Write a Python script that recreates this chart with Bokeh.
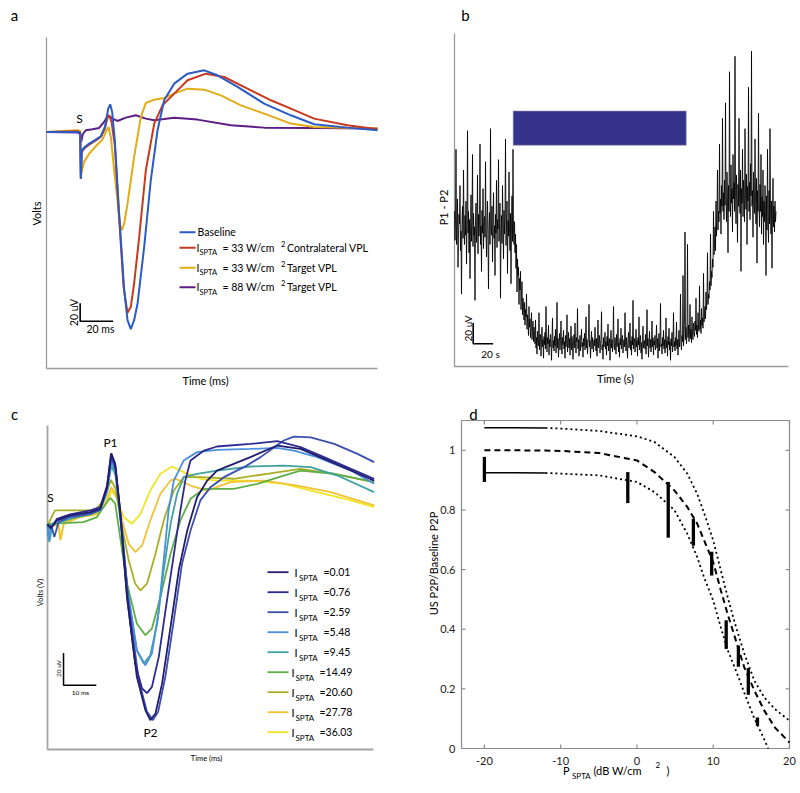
import math
from bokeh.plotting import figure
from bokeh.models import Label, Range1d
from bokeh.embed import file_html
from bokeh.resources import INLINE

FONT = "Lato"

# ---------------- Panel a : evoked potentials (ms, uV) ----------------
a_base_t = [0, 18.8, 20.4, 20.8, 21.4, 22.8, 25.9, 29.9, 32.9, 35.4, 37.4, 38.6, 39.8, 41.4, 44, 47.1, 49.1,
            51.1, 53.1, 55.2, 59.2, 63.2, 67.3, 71.3, 77.4, 85.5, 95.6, 103.6, 115.8, 131.9, 148.1, 162.2, 182.4, 200.6]
a_base_v = [0, 0, -1.1, -51.9, -21.1, -17.4, -13, -8.5, -4.8, 5.6, 25.9, 30.7, 22.2, -9.3, -90.7, -175.9, -209.3,
            -219.3, -209.3, -190.7, -127.8, -53.7, 1.9, 35.2, 53.7, 64.8, 68.5, 63, 50, 31.5, 18.5, 8.5, 4.8, 1.9]

a_contra_t = [0, 18.8, 20.4, 20.8, 21.4, 22.8, 25.9, 29.9, 32.9, 35.4, 37, 38, 39.4, 41.4, 44, 46.7, 49.1,
              51.1, 53.1, 56.2, 60.2, 65.3, 70.3, 77.4, 85.5, 96.6, 107.7, 121.8, 136, 148.1, 162.2, 182.4, 200.6]
a_contra_v = [0, 0.7, -0.4, -51.9, -22.2, -18.5, -14.1, -9.3, -5.6, 3.7, 15.9, 18.5, 11.1, -14.8, -94.4, -172.2, -201.1,
              -194.4, -168.5, -116.7, -42.6, 9.3, 29.6, 42.6, 57.4, 64.8, 61.1, 48.1, 35.2, 25.9, 14.8, 7.4, 3]

a_t33_t = [0, 18.8, 20.4, 20.8, 21.8, 22.8, 25.9, 29.9, 33.9, 36, 37.6, 39, 41, 43, 44.4, 45.7, 47.1, 49.1,
           53.1, 57.2, 60.2, 65.3, 71.3, 77.4, 85.5, 95.6, 105.7, 117.8, 131.9, 148.1, 162.2, 200.6]
a_t33_v = [0, 1.9, 1.1, -50, -40.7, -33.3, -24.1, -15.9, -8.5, 0, 5.6, -5.6, -42.6, -75.9, -101.9, -109.3, -101.9, -79.6,
           -27.8, 16.7, 32.2, 35.9, 37.8, 42.6, 48.1, 47, 40.7, 29.6, 20.4, 9.3, 5.6, 3.7]

a_t88_t = [0, 18.8, 20.4, 21, 22, 23.8, 27.9, 31.9, 34.9, 37.4, 40, 43, 48.1, 54.1, 60.2, 65.3, 71.3, 77.4,
           91.5, 111.7, 131.9, 162.2, 200.6]
a_t88_v = [0, -0.7, -1.9, -11.1, -2.6, 1.9, 3, 4.4, 11.1, 18.5, 14.8, 12.2, 15.9, 18.5, 14.8, 13, 14.4, 15.9,
           13.7, 7.4, 4.8, 4.4, 3.7]

a_colors = ["#2b5bc4", "#c8391e", "#e2ac14", "#5c1d86"]
a_legend_value = ["33", "33", "88"]
a_legend_site = ["Contralateral VPL", "Target VPL", "Target VPL"]

# ---------------- Panel b : P1-P2 amplitude over time (uV, one sample every 0.5 s) ----------------
b_p1p2 = [150, 122, 141, 210, 118, 135, 162, 96, 128, 147, 138, 175, 112, 131, 70, 140, 155, 124, 190, 133,
          118, 146, 127, 160, 99, 137, 228, 129, 150, 110, 142, 85, 131, 166, 121, 139, 205, 116, 148, 127,
          135, 64, 144, 158, 120, 133, 185, 109, 147, 126, 140, 215, 118, 136, 92, 151, 129, 172, 114, 138,
          145, 125, 198, 131, 106, 143, 160, 122, 75, 137, 149, 118, 230, 134, 127, 155, 101, 140, 168, 124,
          136, 88, 147, 129, 180, 115, 142, 133, 200, 121, 139, 158, 66, 130, 146, 119, 175, 137, 104, 151,
          128, 143, 220, 117, 135, 160, 90, 141, 126, 188, 132, 112, 148, 80, 139, 165, 121, 210, 130, 118,
          140, 110, 128, 95, 118, 72, 104, 88, 96, 60, 85, 74, 92, 55, 70, 82, 50, 66, 58, 45,
          62, 40, 55, 48, 70, 36, 50, 42, 30, 58, 38, 46, 28, 40, 52, 26, 35, 44, 24, 38,
          30, 22, 45, 18, 28, 12, 34, 25, 20, 52, 16, 27, 31, 10, 24, 38, 19, 26, 8, 29,
          21, 33, 17, 58, 24, 14, 28, 22, 40, 11, 26, 19, 31, 23, 6, 27, 47, 18, 25, 15,
          29, 20, 36, 13, 24, 62, 18, 27, 9, 23, 32, 16, 25, 44, 20, 12, 28, 21, 35, 17,
          24, 8, 30, 19, 26, 50, 14, 22, 33, 18, 27, 11, 23, 39, 16, 29, 20, 7, 25, 31,
          18, 42, 22, 13, 28, 24, 56, 17, 26, 10, 21, 30, 15, 25, 36, 19, 23, 9, 27, 20,
          32, 16, 24, 48, 18, 26, 12, 22, 29, 60, 19, 25, 8, 23, 34, 17, 28, 21, 14, 26,
          20, 38, 23, 15, 27, 10, 25, 45, 18, 24, 30, 13, 22, 26, 53, 16, 21, 7, 28, 19,
          25, 33, 17, 24, 11, 29, 20, 41, 15, 23, 27, 6, 22, 35, 18, 26, 14, 24, 58, 20,
          16, 28, 22, 12, 31, 19, 25, 46, 14, 23, 9, 27, 21, 37, 17, 24, 30, 13, 22, 26,
          19, 52, 24, 15, 28, 20, 8, 26, 33, 18, 23, 42, 16, 25, 11, 29, 21, 64, 17, 24,
          27, 14, 22, 36, 19, 25, 10, 28, 21, 48, 16, 24, 30, 13, 23, 7, 26, 39, 18, 22,
          25, 17, 31, 12, 24, 55, 20, 27, 9, 23, 34, 18, 26, 14, 22, 44, 19, 28, 11, 25,
          21, 30, 16, 24, 40, 18, 27, 8, 23, 32, 15, 25, 61, 19, 22, 12, 28, 20, 35, 17,
          26, 13, 23, 47, 18, 25, 10, 29, 21, 37, 16, 24, 6, 27, 20, 33, 14, 22, 52, 19,
          24, 15, 28, 20, 43, 17, 26, 11, 23, 35, 19, 27, 70, 21, 16, 30, 24, 88, 20, 28,
          45, 130, 26, 38, 22, 34, 118, 28, 40, 24, 32, 60, 27, 36, 23, 48, 30, 26, 42, 33,
          29, 44, 35, 66, 31, 40, 28, 52, 38, 34, 78, 36, 45, 32, 56, 40, 47, 37, 90, 43,
          50, 58, 46, 72, 55, 64, 110, 60, 70, 66, 82, 74, 128, 78, 92, 86, 104, 96, 150, 108,
          118, 135, 112, 160, 126, 145, 190, 132, 150, 140, 215, 148, 162, 128, 175, 155, 240, 150, 168, 142,
          180, 156, 255, 165, 140, 188, 160, 110, 175, 150, 285, 168, 145, 195, 158, 172, 130, 205, 162, 178,
          150, 300, 170, 138, 185, 160, 120, 176, 155, 240, 165, 148, 190, 92, 172, 158, 210, 145, 180, 163,
          140, 230, 168, 152, 186, 118, 174, 160, 270, 150, 178, 142, 196, 165, 305, 155, 170, 125, 188, 160,
          148, 220, 165, 138, 182, 100, 170, 150, 245, 158, 135, 176, 150, 205, 128, 164, 145, 190, 118, 160,
          140, 175, 150, 88, 165, 132, 210, 145, 120, 170, 138, 230, 150, 128, 160, 95, 148, 182, 135, 155,
          130, 160, 140, 150]
b_time = [0.5 * i for i in range(len(b_p1p2))]   # sampling instants (s)
b_stim_on = [58.7]
b_stim_off = [231.7]
b_bar_bottom = [214]
b_bar_top = [247]

# ---------------- Panel c : waveforms vs intensity (ms, uV) ----------------
c_labels = ["0.01", "0.76", "2.59", "5.48", "9.45", "14.49", "20.60", "27.78", "36.03"]
c_colors = ["#211c6e", "#2d2b8f", "#3a4fae", "#4a90dd", "#3fa39f", "#5fae46", "#aaae24", "#f1c232", "#f1e526"]

c_t_001 = [0, 1.3, 2.9, 6.9, 13.1, 16.1, 18.2, 19.5, 20.7, 22.2, 24.3, 27.3, 29.9, 31.4, 33, 35, 37.6, 40.1,
           42.7, 45.7, 48.8, 51.8, 56.9, 62, 70.2, 77.3, 84.5, 92.7, 99.8]
c_v_001 = [0, -1, 3.1, 6.2, 8.2, 10.3, 23.7, 44.7, 38.1, 9.3, -44.3, -93.8, -114.4, -120.6, -116.5, -98, -62.9, -27.8,
           -3.1, 17.5, 27.8, 34, 38.1, 42.3, 49.5, 47.4, 41.2, 34, 27.8]
c_t_076 = [0, 1, 2.9, 6.9, 13.1, 16.1, 18.2, 19.4, 20.7, 22.2, 24.3, 26.8, 28.9, 30.4, 31.9, 34, 36.5, 39.1,
           40.6, 42.1, 43.7, 47.8, 51.8, 62, 70.2, 77.3, 84.5, 92.7, 99.8]
c_v_076 = [1, -2, 4.1, 6.8, 9.3, 11.3, 24.7, 44.3, 37.1, 7.2, -44.3, -85.6, -101, -103.9, -100, -81.4, -46.4, -11.3,
           9.3, 27.8, 40.2, 46.4, 48.9, 50.5, 52.2, 48.5, 42.3, 35, 28.9]
c_t_259 = [0, 1.3, 2.1, 3.4, 6.9, 13.1, 16.1, 18.2, 19.5, 20.8, 22.4, 24.8, 27.9, 30.4, 32.2, 33.8, 36, 38.6,
           41.1, 43.7, 46.7, 49.8, 53.9, 60, 65.1, 72.2, 75.3, 80.4, 87.6, 94.7, 99.8]
c_v_259 = [0, -1, -7.2, 2.1, 5.2, 7.2, 9.7, 22.7, 42.3, 35, 5.2, -48.5, -95.9, -115.5, -120.6, -115.5, -93.8, -58.8,
           -23.7, -3.1, 15.5, 23.7, 29.9, 36.1, 42.3, 52.6, 55, 54.6, 50.5, 44.3, 39.2]
c_t_548 = [0, 0.4, 1, 2.9, 6.9, 13.1, 16.1, 18.2, 19.5, 20.8, 22.4, 24.5, 27.3, 29.9, 31.9, 34, 35.5, 37,
           38.6, 41.6, 45.7, 51.8, 62, 70.2, 75.3, 82.4, 92.7, 99.8]
c_v_548 = [1, -9.3, 0, 3.1, 5.6, 7.6, 9.7, 21.6, 40.2, 33, 3.1, -40.2, -77.3, -86.6, -79.4, -52.6, -21.6, 9.3,
           27.8, 40.2, 45.4, 46.8, 47.4, 48, 46.4, 42.3, 34, 25.8]
c_t_945 = [0, 0.6, 1.4, 3.9, 8, 13.1, 16.1, 18.2, 19.5, 20.8, 22.4, 24.5, 27.3, 29.4, 31.4, 33.5, 35.5, 37.6,
           39.6, 41.6, 45.7, 51.8, 62, 72.2, 80.4, 88.6, 99.8]
c_v_945 = [-1, -10.3, 0, 2.1, 4.7, 6.8, 9.3, 20.6, 37.1, 30.9, 1, -41.2, -77.3, -85.6, -80.4, -60.8, -27.8, 1,
           19.6, 29.9, 32, 34, 36.5, 37.1, 36.1, 30.9, 20.6]
c_t_1449 = [0, 0.6, 4.9, 11, 15.1, 17.1, 19.2, 20.7, 22.2, 24.3, 27.3, 29.9, 31.9, 34.5, 37.6, 40.6, 43.7,
            47.8, 56.9, 64.1, 72.2, 77.3, 87.6, 99.8]
c_v_1449 = [-6.2, 1, 1.4, 2.1, 5.2, 11.3, 17.1, 13.4, -7.2, -36.1, -60.8, -68, -63.9, -44.3, -17.5, 3.1, 16.5,
            22.7, 22.7, 25.8, 30.9, 34, 32, 26.8]
c_t_2060 = [0, 2.3, 14.6, 17.1, 19.4, 20.8, 22.4, 24.8, 26.8, 28.4, 30.4, 33, 35.5, 38.6, 41.6, 46.7, 56.9,
            67.1, 77.3, 87.6, 99.8]
c_v_2060 = [0, 9.3, 9.3, 15.5, 28.2, 22.7, 3.1, -21.6, -36.1, -40.2, -36.1, -17.5, 3.1, 21.6, 29.9, 29.9, 28.9,
            32, 35, 32, 26.8]
c_t_2778 = [0, 3.4, 3.9, 4.9, 10, 15.1, 17.6, 19.5, 21, 22.8, 24.8, 26.8, 28.9, 31.4, 34.5, 37.6, 39.1, 43.7,
            48.8, 55.9, 66.1, 76.3, 86.5, 99.8]
c_v_2778 = [0, 0, -9.3, 1, 5.2, 7.2, 13.4, 23.7, 18.6, 3.1, -11.3, -16.5, -12.4, 3.1, 19.6, 27.8, 28.9, 24.7,
            21.6, 26.8, 27.8, 24.7, 20.6, 12.4]
c_t_3603 = [0, 3.4, 4.1, 5.1, 10, 15.1, 17.6, 19.7, 21.2, 23.3, 25.8, 28.4, 31.4, 34.5, 38.1, 41.6, 46.7, 51.8,
            62, 72.2, 82.4, 92.7, 99.8]
c_v_3603 = [0, 0, -8.2, 2.1, 5.2, 6.8, 12.4, 21.6, 16.5, 5.2, 1, 7.2, 21.6, 32, 36.5, 33, 28.9, 27.8,
            27.8, 25.8, 20.6, 15.5, 11.3]

c_series_t = [c_t_001, c_t_076, c_t_259, c_t_548, c_t_945, c_t_1449, c_t_2060, c_t_2778, c_t_3603]
c_series_v = [c_v_001, c_v_076, c_v_259, c_v_548, c_v_945, c_v_1449, c_v_2060, c_v_2778, c_v_3603]

# ---------------- Panel d : dose response ----------------
d_fit_x = [-20, -16, -12, -10, -5, 0, 2.3, 4.9, 6.6, 7.9, 8.8, 10, 11, 11.9, 13, 14.1, 15.4, 16.7, 18.1, 20]
d_fit_mid = [1.0, 1.0, 0.999, 0.998, 0.991, 0.966, 0.927, 0.866, 0.81, 0.754, 0.698, 0.625, 0.53, 0.45, 0.36,
             0.27, 0.194, 0.127, 0.07, 0.02]
d_fit_upper = [1.076, 1.076, 1.075, 1.073, 1.065, 1.047, 1.028, 0.978, 0.922, 0.854, 0.79, 0.698, 0.597, 0.507,
               0.406, 0.317, 0.227, 0.171, 0.132, 0.093]
d_low_x = [-20, -16, -12, -10, -5, 0, 2.3, 4.9, 6.6, 7.9, 8.8, 10, 11, 11.9, 13, 14.1, 15.4, 16.7, 17.2]
d_fit_lower = [0.925, 0.925, 0.924, 0.922, 0.916, 0.894, 0.86, 0.80, 0.72, 0.642, 0.574, 0.496, 0.406, 0.33,
               0.26, 0.185, 0.10, 0.03, 0.0]
d_pts_x = [-20, -1.2, 4.1, 7.4, 9.8, 11.7, 13.3, 14.6, 15.8]
d_pts_lo = [0.894, 0.823, 0.707, 0.68, 0.58, 0.334, 0.274, 0.18, 0.076]
d_pts_hi = [0.978, 0.927, 0.894, 0.77, 0.66, 0.43, 0.345, 0.27, 0.104]
d_xticks = [-20, -10, 0, 10, 20]
d_xtick_labels = ["-20", "-10", "0", "10", "20"]
d_yticks = [0, 0.2, 0.4, 0.6, 0.8, 1]
d_ytick_labels = ["0", "0.2", "0.4", "0.6", "0.8", "1"]

# ---------------- one canvas, one range pair per panel ----------------
W, H = 800, 793
OX, OY = 0, 0          # canvas origin in picture pixels

p = figure(width=W, height=H, x_range=Range1d(OX, OX + W), y_range=Range1d(OY + H, OY),
           min_border=0, x_axis_location=None, y_axis_location=None,
           output_backend="svg", toolbar_location=None)
p.grid.visible = False
p.outline_line_color = None
p.background_fill_color = "white"
p.border_fill_color = "white"

SC = {}


def panel(name, box, xr, yr):
    bx0, by0, bx1, by1 = box
    kx = (xr[1] - xr[0]) / (bx1 - bx0)
    ky = (yr[1] - yr[0]) / (by1 - by0)
    X = lambda px: xr[0] + (px - bx0) * kx
    Y = lambda py: yr[1] - (py - by0) * ky
    p.extra_x_ranges[name] = Range1d(X(OX), X(OX + W))
    p.extra_y_ranges[name] = Range1d(Y(OY + H), Y(OY))
    SC[name] = (kx, ky)


def txt(x, y, s, size, align="left", angle=0.0, color="black", rn=None):
    kw = {}
    if rn:
        kw = dict(x_range_name=rn, y_range_name=rn)
    p.add_layout(Label(x=x, y=y, text=s, text_font=FONT, text_font_size=f"{size}px",
                       text_align=align, text_baseline="middle", angle=angle, text_color=color, **kw))


def spines(rn, xr, yr, color, width):
    p.line([xr[0], xr[0], xr[1]], [yr[1], yr[0], yr[0]], line_color=color, line_width=width,
           x_range_name=rn, y_range_name=rn)


ROT = math.pi / 2

# ================= Panel a =================
A_XR, A_YR = (0, 200.6), (-263, 105)
panel("a", (46, 37, 377, 368), A_XR, A_YR)
spines("a", A_XR, A_YR, "#9b9b9b", 1.3)
for tt, vv, col in zip([a_t88_t, a_t33_t, a_contra_t, a_base_t],
                       [a_t88_v, a_t33_v, a_contra_v, a_base_v],
                       [a_colors[3], a_colors[2], a_colors[1], a_colors[0]]):
    p.line(tt, vv, line_color=col, line_width=2, x_range_name="a", y_range_name="a")
a_sb_x, a_sb_y = 20.4, -210.4
p.line([a_sb_x, a_sb_x, a_sb_x + 20], [a_sb_y + 20, a_sb_y, a_sb_y], line_color="black", line_width=1.6,
       x_range_name="a", y_range_name="a")
txt(73, 312, "20 uV", 10.5, align="center", angle=ROT)
txt(100, 328, "20 ms", 10.5, align="center")
txt(79, 118, "S", 12, align="center")
a_rows = [231.7, 247.3, 267.3, 286.7]
for col, py in zip(a_colors, a_rows):
    p.line([179, 195], [py, py], line_color=col, line_width=2)
txt(197, a_rows[0], "Baseline", 10.5)
for i in range(3):
    py = a_rows[i + 1]
    txt(196, py, "I", 10.5)
    txt(199, py + 5, "SPTA", 7.5)
    txt(222, py, "= " + a_legend_value[i] + " W/cm", 10.5)
    txt(280.5, py - 4, "2", 7.5)
    txt(286.5, py, a_legend_site[i], 10.5)
txt(35.7, 213, "Volts", 11, align="center", angle=ROT)
txt(205, 380, "Time (ms)", 11, align="center")
txt(14, 14, "a", 15, align="center")

# ================= Panel b =================
B_XR, B_YR = (0, 334), (0, 322)
panel("b", (454, 33, 788, 366), B_XR, B_YR)
spines("b", B_XR, B_YR, "#9b9b9b", 1.3)
p.quad(left=b_stim_on, right=b_stim_off, bottom=b_bar_bottom, top=b_bar_top,
       fill_color="#35338a", line_color="#8a8aa8", line_width=0.6, x_range_name="b", y_range_name="b")
p.line(b_time, b_p1p2, line_color="black", line_width=1.0, line_alpha=0.85, x_range_name="b", y_range_name="b")
b_sb_x, b_sb_y = 18.7, 22
p.line([b_sb_x, b_sb_x, b_sb_x + 20], [b_sb_y + 20, b_sb_y, b_sb_y], line_color="black", line_width=1.6,
       x_range_name="b", y_range_name="b")
txt(467, 328, "20 uV", 10, align="center", angle=ROT)
txt(490, 353, "20 s", 10, align="center")
txt(443, 207, "P1 - P2", 11, align="center", angle=ROT)
txt(615, 378, "Time (s)", 11, align="center")
txt(465, 14, "b", 15, align="center")

# ================= Panel c =================
C_XR, C_YR = (0, 99.6), (-138.8, 61.9)
panel("c", (47, 425, 373, 749), C_XR, C_YR)
spines("c", C_XR, C_YR, "#a5a5a5", 1.8)
for tt, vv, col in reversed(list(zip(c_series_t, c_series_v, c_colors))):
    p.line(tt, vv, line_color=col, line_width=1.8, x_range_name="c", y_range_name="c")
c_sb_x, c_sb_y = 4.9, -99
p.line([c_sb_x, c_sb_x, c_sb_x + 10], [c_sb_y + 20, c_sb_y, c_sb_y], line_color="black", line_width=1.5,
       x_range_name="c", y_range_name="c")
txt(58, 668, "20 uV", 6.5, align="center", angle=ROT)
txt(80, 692, "10 ms", 6.5, align="center")
txt(50, 497, "S", 12, align="center")
txt(110, 442, "P1", 12, align="center")
txt(150, 732, "P2", 12, align="center")
for i, (lab, col) in enumerate(zip(c_labels, c_colors)):
    py = 571.7 + 20 * i
    p.line([267, 288], [py, py], line_color=col, line_width=1.8)
    if i < 5:
        xi, xs, xv = 294, 298.5, 323
    else:
        xi, xs, xv = 291, 295, 319
    txt(xi, py, "I", 11)
    txt(xs, py + 5.5, "SPTA", 8)
    txt(xv, py - 0.5, "=" + lab, 10.5)
txt(40, 592, "Volts (V)", 7.5, align="center", angle=ROT)
txt(206, 758, "Time (ms)", 7.5, align="center")
txt(14, 413, "c", 15, align="center")

# ================= Panel d =================
D_XR, D_YR = (-23, 20), (0, 1.1)
panel("d", (461, 420, 789, 748), D_XR, D_YR)
kx, ky = SC["d"]
AX_COL = "#8c8c8c"
p.line([D_XR[0], D_XR[1], D_XR[1], D_XR[0], D_XR[0]], [D_YR[0], D_YR[0], D_YR[1], D_YR[1], D_YR[0]],
       line_color=AX_COL, line_width=1.2, x_range_name="d", y_range_name="d")
TL = 4
n = len(d_xticks)
p.segment(x0=d_xticks, y0=[D_YR[0]] * n, x1=d_xticks, y1=[D_YR[0] + TL * ky] * n,
          line_color=AX_COL, line_width=1.2, x_range_name="d", y_range_name="d")
p.segment(x0=d_xticks, y0=[D_YR[1]] * n, x1=d_xticks, y1=[D_YR[1] - TL * ky] * n,
          line_color=AX_COL, line_width=1.2, x_range_name="d", y_range_name="d")
m = len(d_yticks)
p.segment(x0=[D_XR[0]] * m, y0=d_yticks, x1=[D_XR[0] + TL * kx] * m, y1=d_yticks,
          line_color=AX_COL, line_width=1.2, x_range_name="d", y_range_name="d")
p.segment(x0=[D_XR[1]] * m, y0=d_yticks, x1=[D_XR[1] - TL * kx] * m, y1=d_yticks,
          line_color=AX_COL, line_width=1.2, x_range_name="d", y_range_name="d")
for xt, lab in zip(d_xticks, d_xtick_labels):
    txt(xt, D_YR[0] - 12 * ky, lab, 11, align="center", color="#222222", rn="d")
for yt, lab in zip(d_yticks, d_ytick_labels):
    txt(D_XR[0] - 6 * kx, yt, lab, 11, align="right", color="#222222", rn="d")

p.line(d_fit_x[:3], d_fit_upper[:3], line_color="black", line_width=1.5, x_range_name="d", y_range_name="d")
p.line(d_low_x[:3], d_fit_lower[:3], line_color="black", line_width=1.5, x_range_name="d", y_range_name="d")
p.line(d_fit_x[2:], d_fit_upper[2:], line_color="black", line_width=1.8, line_dash="2 3",
       x_range_name="d", y_range_name="d")
p.line(d_low_x[2:], d_fit_lower[2:], line_color="black", line_width=1.8, line_dash="2 3",
       x_range_name="d", y_range_name="d")
p.line(d_fit_x, d_fit_mid, line_color="black", line_width=2, line_dash="6 4", x_range_name="d", y_range_name="d")
p.segment(x0=d_pts_x, y0=d_pts_lo, x1=d_pts_x, y1=d_pts_hi, line_color="black", line_width=3.3,
          x_range_name="d", y_range_name="d")

txt(433, 563, "US P2P/Baseline P2P", 11, align="center", angle=ROT)
txt(562.5, 769.5, "P", 11)
txt(571.5, 775, "SPTA", 8)
txt(593, 769.5, "(dB W/cm", 11)
txt(655, 764, "2", 8)
txt(666, 769.5, ")", 11)
txt(473, 413, "d", 15, align="center")

open("out.html", "w").write(file_html(p, INLINE, title="figure"))
